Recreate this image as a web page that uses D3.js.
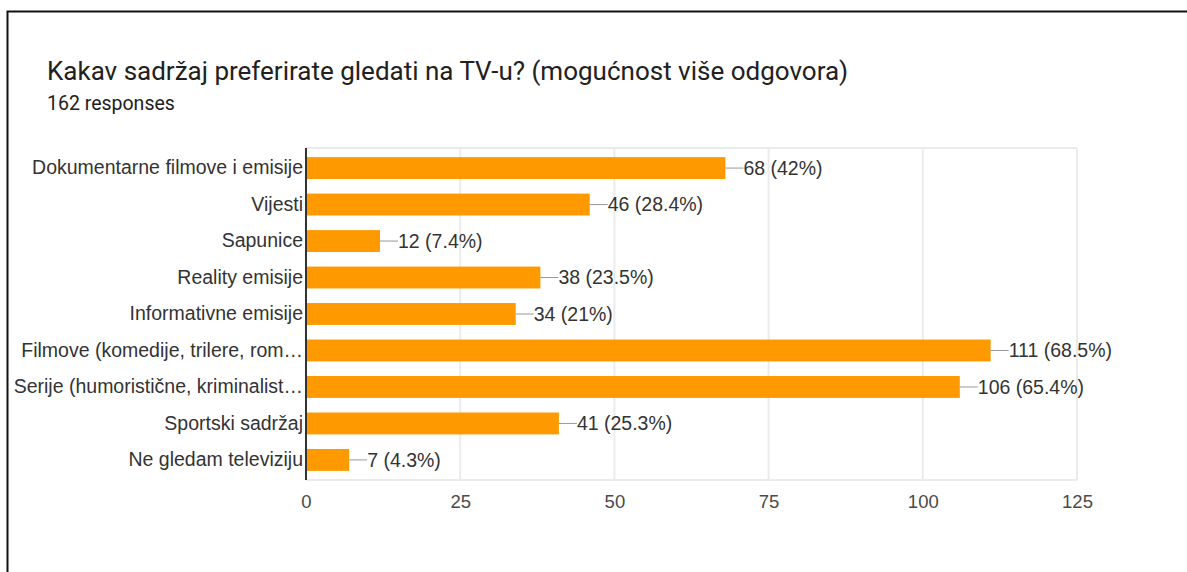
<!DOCTYPE html>
<html>
<head>
<meta charset="utf-8">
<script src="https://cdn.jsdelivr.net/npm/d3@7"></script>
<style>
  body { margin: 0; background: #fff; }
  svg { display: block; font-family: "Liberation Sans", Arial, sans-serif; }
</style>
</head>
<body>
<div id="chart"></div>
<script>
// data
const categories = [
  "Dokumentarne filmove i emisije",
  "Vijesti",
  "Sapunice",
  "Reality emisije",
  "Informativne emisije",
  "Filmove (komedije, trilere, rom\u2026",
  "Serije (humoristične, kriminalist\u2026",
  "Sportski sadržaj",
  "Ne gledam televiziju"
];
const counts = [68, 46, 12, 38, 34, 111, 106, 41, 7];
const percents = ["42%", "28.4%", "7.4%", "23.5%", "21%", "68.5%", "65.4%", "25.3%", "4.3%"];
const xTicks = [0, 25, 50, 75, 100, 125];

const width = 1187, height = 572;
const margin = {top: 148, bottom: 92, left: 306, right: 110};
const labelFont = 19.5;
const tickFont = 18.5;

const svg = d3.select("#chart")
  .append("svg")
  .attr("width", width)
  .attr("height", height);

// outer frame (only top and left visible)
svg.append("path")
  .attr("d", `M7.5,${height} V11.5 H${width}`)
  .attr("fill", "none")
  .attr("stroke", "#111")
  .attr("stroke-width", 2);

svg.append("text")
  .attr("x", 47).attr("y", 80)
  .attr("font-size", 26)
  .attr("font-family", "Roboto, Arial, sans-serif")
  .attr("fill", "#212121")
  .text("Kakav sadržaj preferirate gledati na TV-u? (mogućnost više odgovora)");

svg.append("text")
  .attr("x", 47).attr("y", 110)
  .attr("font-size", 19.5)
  .attr("font-family", "Roboto, Arial, sans-serif")
  .attr("fill", "#212121")
  .text("162 responses");

const xScale = d3.scaleLinear()
  .domain([0, 125])
  .range([margin.left, width - margin.right]);

const yScale = d3.scaleBand()
  .domain(categories)
  .range([margin.top, height - margin.bottom])
  .paddingInner(0.4)
  .paddingOuter(0.25);

// gridlines
svg.append("g")
  .selectAll("line")
  .data(xTicks.slice(1))
  .join("line")
  .attr("x1", d => xScale(d)).attr("x2", d => xScale(d))
  .attr("y1", margin.top).attr("y2", height - margin.bottom)
  .attr("stroke", "#ebebeb")
  .attr("stroke-width", 2);

svg.append("line")
  .attr("x1", margin.left).attr("x2", xScale(125))
  .attr("y1", margin.top).attr("y2", margin.top)
  .attr("stroke", "#ebebeb").attr("stroke-width", 2);
svg.append("line")
  .attr("x1", margin.left).attr("x2", xScale(125))
  .attr("y1", height - margin.bottom).attr("y2", height - margin.bottom)
  .attr("stroke", "#ebebeb").attr("stroke-width", 2);

// bars
svg.append("g")
  .selectAll("rect")
  .data(categories)
  .join("rect")
  .attr("x", xScale(0))
  .attr("y", d => yScale(d))
  .attr("width", (d, i) => xScale(counts[i]) - xScale(0))
  .attr("height", yScale.bandwidth())
  .attr("fill", "#ff9900");

// leader lines + labels
const labels = svg.append("g");
labels.selectAll("line")
  .data(categories)
  .join("line")
  .attr("x1", (d, i) => xScale(counts[i]))
  .attr("x2", (d, i) => xScale(counts[i]) + 18)
  .attr("y1", d => yScale(d) + yScale.bandwidth() / 2)
  .attr("y2", d => yScale(d) + yScale.bandwidth() / 2)
  .attr("stroke", "#999")
  .attr("stroke-width", 1);
labels.selectAll("text")
  .data(categories)
  .join("text")
  .attr("x", (d, i) => xScale(counts[i]) + 18)
  .attr("y", d => yScale(d) + yScale.bandwidth() / 2)
  .attr("dy", "0.35em")
  .attr("font-size", labelFont)
  .attr("fill", "#333")
  .text((d, i) => `${counts[i]} (${percents[i]})`);

// y axis
const yAxis = d3.axisLeft(yScale).tickSize(0).tickPadding(3);
const yAxisGroup = svg.append("g")
  .attr("transform", `translate(${margin.left},0)`)
  .call(yAxis);
yAxisGroup.select(".domain")
  .attr("stroke", "#333")
  .attr("stroke-width", 2)
  .attr("d", `M0,${margin.top}V${height - margin.bottom}`);
yAxisGroup.selectAll("text")
  .attr("font-size", labelFont)
  .attr("font-family", "'Liberation Sans', Arial, sans-serif")
  .attr("fill", "#333");

// x axis
const xAxis = d3.axisBottom(xScale).tickValues(xTicks).tickSize(0).tickPadding(15);
const xAxisGroup = svg.append("g")
  .attr("transform", `translate(0,${height - margin.bottom})`)
  .call(xAxis);
xAxisGroup.select(".domain").remove();
xAxisGroup.selectAll("text")
  .attr("font-size", tickFont)
  .attr("font-family", "'Liberation Sans', Arial, sans-serif")
  .attr("fill", "#4a4a4a");
</script>
</body>
</html>
